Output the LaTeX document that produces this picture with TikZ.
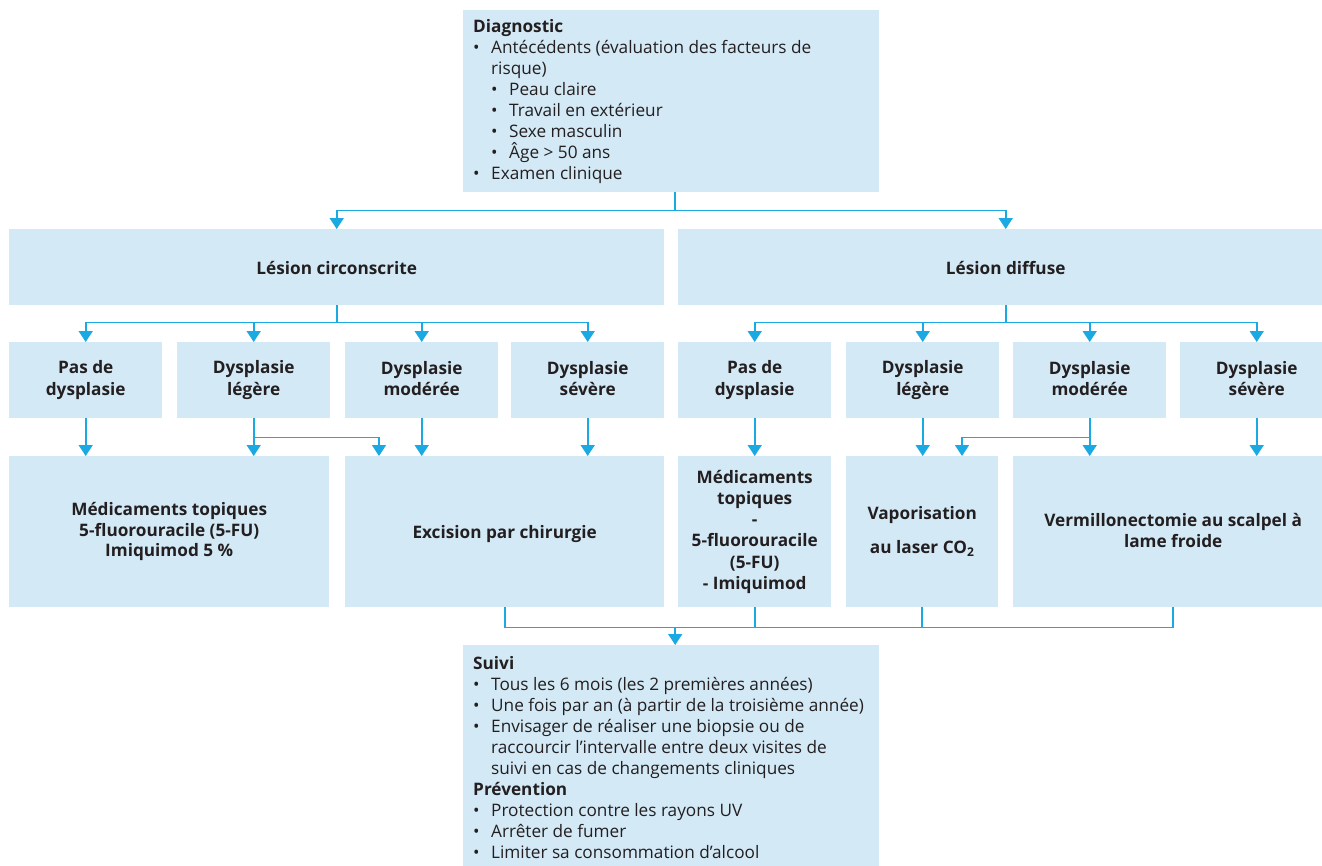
\documentclass[tikz,border=0pt]{standalone}
\usepackage{fontspec}
\setmainfont{Open Sans}
\usetikzlibrary{arrows.meta,calc}
\definecolor{boxfill}{RGB}{211,233,246}
\definecolor{conncol}{RGB}{26,169,226}
\definecolor{txtcol}{RGB}{35,31,32}
\newcommand\lbul{\makebox[18pt][l]{•}}
\newcommand\lind{\hspace*{18pt}}
\begin{document}
\begin{tikzpicture}[x=1pt,y=-1pt,
  box/.style={fill=boxfill, draw=none, anchor=north west, inner sep=0pt,
    font=\fontsize{17.2}{21.5}\selectfont\bfseries, text=txtcol, align=center,
    execute at begin node=\rule{0pt}{17pt}, execute at end node=\rule[-3pt]{0pt}{3pt}},
  listtxt/.style={anchor=west, inner sep=0pt, align=left, text=txtcol,
    font=\fontsize{17.2}{21}\selectfont},
  conn/.style={draw=conncol, line width=1.6pt},
  arr/.style={conn, -{Triangle[width=14pt,length=11pt]}}]
\useasboundingbox (0,0) rectangle (1322,865);
\clip (0,0) rectangle (1322,865);

% top box
\node[box, minimum width=416, minimum height=182] (diag) at (463,10) {};
\node[listtxt] (diagtxt) at ([xshift=10pt]diag.west) {%
\textbf{Diagnostic}\\
\lbul Antécédents (évaluation des facteurs de\\
\lind risque)\\
\lind\lbul Peau claire\\
\lind\lbul Travail en extérieur\\
\lind\lbul Sexe masculin\\
\lind\lbul Âge > 50 ans\\
\lbul Examen clinique};

% level 1
\node[box, minimum width=655, minimum height=76] (lc) at (9,229) {Lésion circonscrite};
\node[box, minimum width=655, minimum height=76] (ld) at (678,229) {Lésion diffuse};

% level 2
\node[box, minimum width=153, minimum height=76] (c1) at (9,342) {Pas de\\dysplasie};
\node[box, minimum width=153, minimum height=76] (c2) at (177,342) {Dysplasie\\légère};
\node[box, minimum width=153, minimum height=76] (c3) at (345,342) {Dysplasie\\modérée};
\node[box, minimum width=153, minimum height=76] (c4) at (511,342) {Dysplasie\\sévère};
\node[box, minimum width=153, minimum height=76] (d1) at (678,342) {Pas de\\dysplasie};
\node[box, minimum width=153, minimum height=76] (d2) at (846,342) {Dysplasie\\légère};
\node[box, minimum width=153, minimum height=76] (d3) at (1013,342) {Dysplasie\\modérée};
\node[box, minimum width=153, minimum height=76] (d4) at (1180,342) {Dysplasie\\sévère};

% level 3
\node[box, minimum width=320, minimum height=151, font=\fontsize{17.2}{20.5}\selectfont\bfseries] (t1) at (9,456) {Médicaments topiques\\5-fluorouracile (5-FU)\\Imiquimod 5 \%};
\node[box, minimum width=319, minimum height=151] (t2) at (345,456) {Excision par chirurgie};
\node[box, minimum width=153, minimum height=151, font=\fontsize{17.2}{21.2}\selectfont\bfseries] (r1) at (678,456) {Médicaments\\topiques\\-\\5-fluorouracile\\(5-FU)\\- Imiquimod};
\node[box, minimum width=152, minimum height=151] (r2) at (846,456) {Vaporisation\\[12pt]au laser CO\textsubscript{2}};
\node[box, minimum width=320, minimum height=151] (r3) at (1013,456) {Vermillonectomie au scalpel à\\lame froide};

% bottom box
\node[box, minimum width=416, minimum height=225] (suivi) at (463,645) {};
\node[listtxt] (suivitxt) at ([xshift=10pt]suivi.west) {%
\textbf{Suivi}\\
\lbul Tous les 6 mois (les 2 premières années)\\
\lbul Une fois par an (à partir de la troisième année)\\
\lbul Envisager de réaliser une biopsie ou de\\
\lind raccourcir l’intervalle entre deux visites de\\
\lind suivi en cas de changements cliniques\\
\textbf{Prévention}\\
\lbul Protection contre les rayons UV\\
\lbul Arrêter de fumer\\
\lbul Limiter sa consommation d’alcool};

% connectors top
\draw[arr] ([xshift=4pt]diag.south) -- ++(0,18) -| (lc.north);
\draw[arr] ([xshift=4pt]diag.south) -- ++(0,18) -| (ld.north);

\foreach \n in {c1,c2,c3,c4} \draw[arr] (lc.south) -- ++(0,17) -| (\n.north);
\foreach \n in {d1,d2,d3,d4} \draw[arr] (ld.south) -- ++(0,17) -| (\n.north);

% level 2 -> 3
\draw[arr] (c1.south) -- (c1.south |- t1.north);
\draw[arr] (c2.south) -- (c2.south |- t1.north);
\draw[arr] (c2.south) -- ++(0,19) -| ([xshift=34pt]t2.north west);
\draw[arr] (c3.south) -- (c3.south |- t2.north);
\draw[arr] (c4.south) -- (c4.south |- t2.north);
\draw[arr] (d1.south) -- (d1.south |- r1.north);
\draw[arr] (d2.south) -- (d2.south |- r2.north);
\draw[arr] (d3.south) -- ++(0,19) -| ([xshift=116pt]r2.north west);
\draw[arr] (d3.south) -- (d3.south |- r3.north);
\draw[arr] (d4.south) -- (d4.south |- r3.north);

% bottom
\coordinate (jb) at ([xshift=4pt]suivi.north |- 0,627);
\draw[conn] (t2.south) -- ++(0,20) -| (r3.south);
\draw[conn] (r1.south) -- (r1.south |- jb);
\draw[conn] (r2.south) -- (r2.south |- jb);
\draw[arr] (jb) -- (jb |- suivi.north);
\end{tikzpicture}
\end{document}
